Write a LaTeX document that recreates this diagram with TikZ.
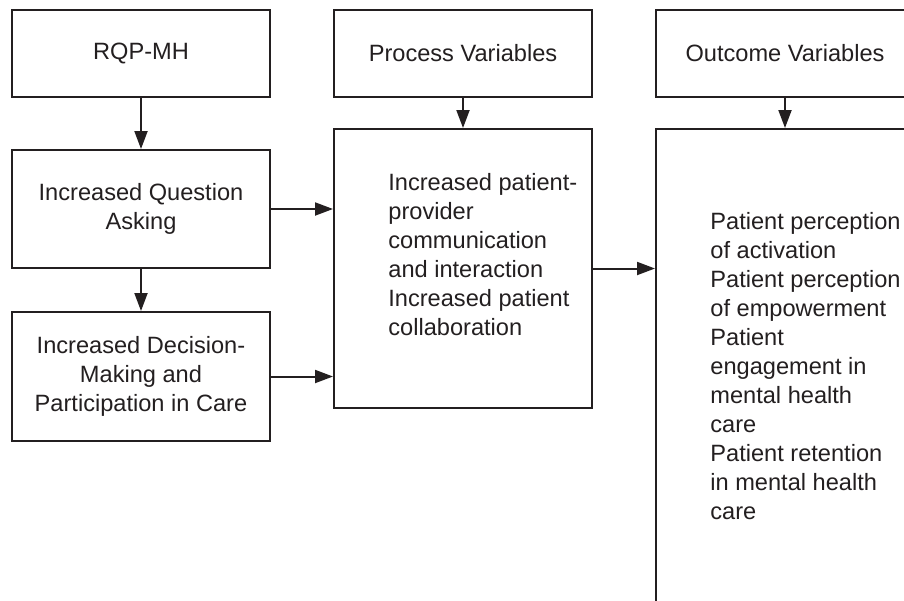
\documentclass[tikz,border=0pt]{standalone}
\usepackage{fontspec}
\setmainfont{Liberation Sans}
\usetikzlibrary{arrows.meta}
\definecolor{ink}{HTML}{231F20}

\begin{document}
\begin{tikzpicture}[x=0.5pt,y=-0.5pt,
  box/.style={draw=ink,line width=1pt,minimum width=129pt,inner sep=0pt,align=center,text=ink,font=\fontsize{11.8}{14.5}\selectfont},
  txt/.style={anchor=north west,inner sep=0pt,align=left,text=ink,font=\fontsize{11.8}{14.5}\selectfont},
  arr/.style={draw=ink,line width=1pt,-{Triangle[length=9pt,width=6.5pt]}}]
\clip (0,0) rectangle (904,600);
\fill[white] (0,0) rectangle (904,600);
% header row
\node[box,minimum height=43.5pt] (rqp) at (141,53.5) {RQP-MH};
\node[box,minimum height=43.5pt] (proc) at (463,53.5) {Process Variables};
\node[box,minimum height=43.5pt] (outc) at (785,53.5) {Outcome Variables};
% left column
\node[box,minimum height=59pt] (quest) at (141,209) {Increased Question\\Asking};
\node[box,minimum height=64.5pt] (dec) at (141,376.5) {Increased Decision-\\Making and\\Participation in Care};
% tall boxes, the right one runs off the page
\node[box,minimum height=139.5pt] (mid) at (463,268.5) {};
\node[box,minimum height=250pt] (res) at (785,379) {};
\node[txt] (midtxt) at (388,172.5) {Increased patient-\\provider\\communication\\and interaction\\Increased patient\\collaboration};
\node[txt] (restxt) at (710,211.5) {Patient perception\\of activation\\Patient perception\\of empowerment\\Patient\\engagement in\\mental health\\care\\Patient retention\\in mental health\\care};
% connectors
\draw[arr] (rqp) -- (quest);
\draw[arr] (quest) -- (dec);
\draw[arr] (proc) -- (mid);
\draw[arr] (outc) -- (res.north -| outc);
\draw[arr] (quest.east) -- (quest.east -| mid.west);
\draw[arr] (dec.east) -- (dec.east -| mid.west);
\draw[arr] (mid.east) -- (mid.east -| res.west);
\end{tikzpicture}
\end{document}
